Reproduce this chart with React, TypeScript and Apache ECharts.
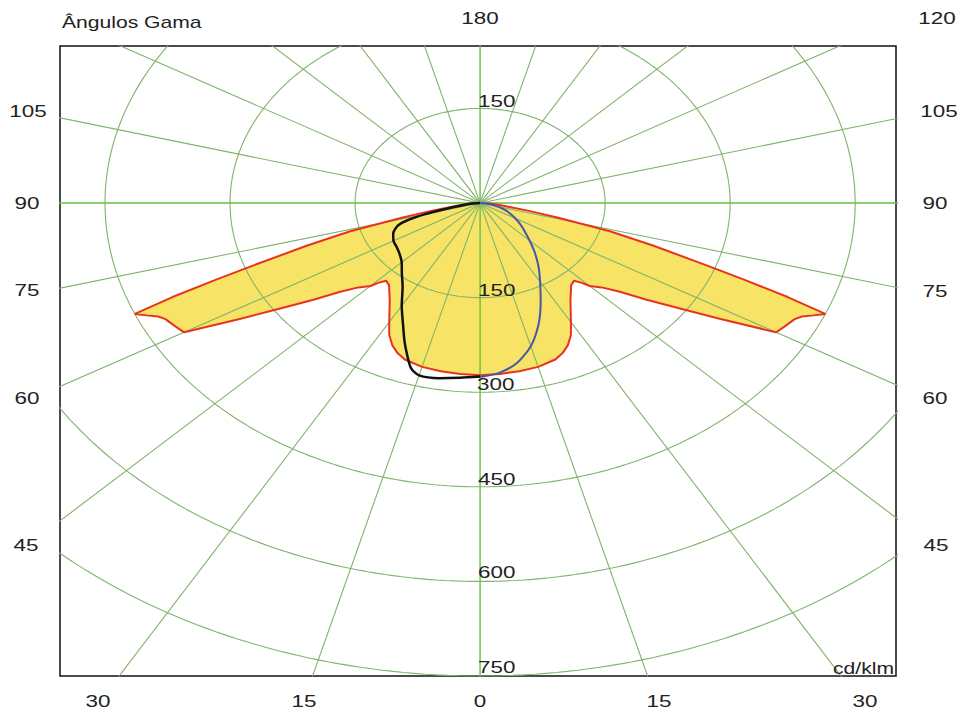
import React, { useEffect, useRef } from "react";
import * as echarts from "echarts";

// Photometric distribution (cd/klm) – gamma angle in degrees from nadir
const ringValues = [150, 300, 450, 600, 750];
const spokeAngles = [0, 15, 30, 45, 60, 75, 90, 105, 120, 135, 150, 165];

// C0/C180 plane (symmetric, filled)
const gammaC0 = [0, 5, 10, 15, 20, 22.5, 25, 27.5, 30, 35, 40, 42.5, 44, 45, 47.5, 50, 52.5, 55, 57.5, 60, 62, 64, 65, 66, 67, 68, 69, 70, 72, 74, 76, 78, 80, 82.5, 85, 87.5, 90];
const intensityC0 = [273, 272, 271, 269, 264, 258, 249, 236, 218, 189, 170, 167, 176, 186, 198, 219, 252, 290, 342, 410, 415, 420, 426, 438, 450, 398, 340, 290, 218, 162, 98, 60, 36, 22, 14, 8, 3];

// C90 half plane (left)
const gammaC90 = [0, 5, 10, 15, 17.5, 20, 22.5, 25, 30, 35, 40, 45, 50, 55, 60, 65, 70, 72.5, 75, 77.5, 80, 85, 90];
const intensityC90 = [275, 278, 282, 283, 275, 256, 237, 218, 188, 162, 146, 133, 126, 122, 120, 115, 105, 92, 68, 40, 24, 9, 0];

// C270 half plane (right)
const gammaC270 = [0, 5, 10, 15, 20, 25, 30, 35, 40, 45, 50, 55, 60, 65, 70, 75, 80, 85, 90];
const intensityC270 = [276, 270, 257, 235, 205, 172, 144, 122, 102, 84, 70, 59, 49, 40, 31, 22, 14, 7, 0];

const RAD = Math.PI / 180;
const toXY = (g: number, r: number, side: number): [number, number] => [
  side * r * Math.sin(g * RAD),
  -r * Math.cos(g * RAD),
];

const halfCurve = (gs: number[], rs: number[], side: number) => gs.map((g, i) => toXY(g, rs[i], side));

const c0Left = halfCurve(gammaC0, intensityC0, -1).reverse();
const c0Right = halfCurve(gammaC0, intensityC0, 1);
const c0Outline = [...c0Left, ...c0Right];
const c90Curve = halfCurve(gammaC90, intensityC90, -1);
const c270Curve = halfCurve(gammaC270, intensityC270, 1);

const GRID_COLOR = "#7fb46c";
const AXIS_COLOR = "#63c23c";
const TEXT_COLOR = "#222";
const FONT = '"Liberation Sans", Arial, sans-serif';
const STRETCH = 1.32;

const ringSeries = ringValues.map((r) => {
  const pts: [number, number][] = [];
  for (let a = 0; a <= 360; a += 1) pts.push([r * Math.sin(a * RAD), -r * Math.cos(a * RAD)]);
  return {
    type: "line",
    data: pts,
    showSymbol: false,
    silent: true,
    clip: true,
    z: 2,
    lineStyle: { color: GRID_COLOR, width: 1.1 },
  };
});

const spokeSeries = spokeAngles.map((a) => {
  const L = 1500;
  const main = a === 0 || a === 90;
  return {
    type: "line",
    data: [
      [L * Math.sin(a * RAD), -L * Math.cos(a * RAD)],
      [-L * Math.sin(a * RAD), L * Math.cos(a * RAD)],
    ],
    showSymbol: false,
    silent: true,
    clip: true,
    z: 2,
    lineStyle: { color: main ? AXIS_COLOR : GRID_COLOR, width: main ? 1.4 : 1.1 },
  };
});

type Lbl = { t: string; x: number; y: number; align?: string; size?: number };

const labels: Lbl[] = [
  { t: "Ângulos Gama", x: 62, y: 22, align: "left", size: 16 },
  { t: "180", x: 480, y: 18 },
  { t: "120", x: 937, y: 18 },
  { t: "105", x: 28, y: 111 },
  { t: "90", x: 27, y: 203 },
  { t: "75", x: 27, y: 290 },
  { t: "60", x: 27, y: 398 },
  { t: "45", x: 26, y: 545 },
  { t: "105", x: 939, y: 111 },
  { t: "90", x: 935, y: 203 },
  { t: "75", x: 935, y: 291 },
  { t: "60", x: 935, y: 398 },
  { t: "45", x: 936, y: 545 },
  { t: "30", x: 98, y: 701 },
  { t: "15", x: 304, y: 701 },
  { t: "0", x: 480, y: 701 },
  { t: "15", x: 659, y: 701 },
  { t: "30", x: 865, y: 701 },
  { t: "150", x: 478, y: 101, align: "left" },
  { t: "150", x: 478, y: 290, align: "left" },
  { t: "300", x: 477, y: 384, align: "left" },
  { t: "450", x: 478, y: 479, align: "left" },
  { t: "600", x: 478, y: 572, align: "left" },
  { t: "750", x: 478, y: 667, align: "left" },
  { t: "cd/klm", x: 894, y: 668, align: "right", size: 16 },
];

const graphicTexts = labels.map((l) => ({
  type: "text",
  x: l.x,
  y: l.y,
  scaleX: STRETCH,
  z: 100,
  silent: true,
  style: {
    text: l.t,
    font: `${l.size ?? 17}px ${FONT}`,
    fill: TEXT_COLOR,
    align: l.align ?? "center",
    verticalAlign: "middle",
    textAlign: l.align ?? "center",
    textVerticalAlign: "middle",
  },
}));

const option = {
  animation: false,
  backgroundColor: "#ffffff",
  grid: {
    left: 60,
    right: 65,
    top: 46,
    bottom: 37,
    show: true,
    backgroundColor: "#ffffff",
    borderColor: "#111111",
    borderWidth: 1.5,
  },
  xAxis: { type: "value", min: -504, max: 499, show: false },
  yAxis: { type: "value", min: -750, max: 249, show: false },
  series: [
    {
      type: "custom",
      coordinateSystem: "cartesian2d",
      data: [[0, 0]],
      encode: { x: 0, y: 1 },
      silent: true,
      clip: true,
      z: 1,
      renderItem: (_params: any, api: any) => ({
        type: "polygon",
        shape: { points: c0Outline.map((p) => api.coord(p)) },
        style: { fill: "#f7e467", stroke: "none" },
      }),
    },
    ...ringSeries,
    ...spokeSeries,
    {
      type: "line",
      name: "C0-C180",
      data: c0Outline,
      showSymbol: false,
      silent: true,
      clip: true,
      z: 3,
      lineStyle: { color: "#e8331e", width: 2 },
    },
    {
      type: "line",
      name: "C90",
      data: c90Curve,
      showSymbol: false,
      silent: true,
      clip: true,
      smooth: 0.25,
      z: 4,
      lineStyle: { color: "#111111", width: 2.5 },
    },
    {
      type: "line",
      name: "C270",
      data: c270Curve,
      showSymbol: false,
      silent: true,
      clip: true,
      smooth: 0.25,
      z: 4,
      lineStyle: { color: "#4b55a8", width: 2 },
    },
  ],
  graphic: graphicTexts,
};

export default function App() {
  const ref = useRef<HTMLDivElement>(null);
  useEffect(() => {
    if (!ref.current) return;
    const chart = echarts.init(ref.current, null, { renderer: "svg" });
    chart.setOption(option as any);
    return () => chart.dispose();
  }, []);
  return (
    <div
      ref={ref}
      style={{ position: "fixed", left: 0, top: 0, width: 961, height: 713, background: "#fff" }}
    />
  );
}
